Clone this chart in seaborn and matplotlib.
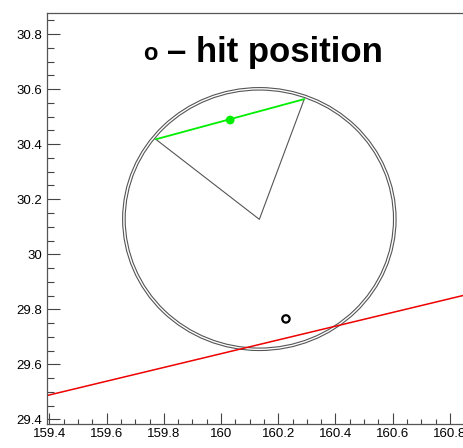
import numpy as np
import seaborn as sns
import matplotlib
matplotlib.use("Agg")
import matplotlib.pyplot as plt
from matplotlib.patches import Circle
from matplotlib.ticker import MultipleLocator, FuncFormatter

# axis ranges
x_range = [159.39, 160.846]
y_range = [29.382, 30.876]

# ring (two concentric circles)
ring_center = [160.134, 30.128]
ring_radii = [0.469, 0.478]

# triangle: chord endpoints and apex
tri_x = [159.772, 160.134, 160.291]
tri_y = [30.418, 30.127, 30.564]

# green chord and its midpoint
chord_x = [159.772, 160.291]
chord_y = [30.418, 30.564]
chord_mid_x = [160.032]
chord_mid_y = [30.488]

# hit position
hit_x = [160.227]
hit_y = [29.765]

# red track line
track_x = [159.39, 160.846]
track_y = [29.486, 29.850]

sns.set_style("ticks")
plt.rcParams['font.family'] = ['Liberation Sans', 'DejaVu Sans']
plt.rcParams['text.color'] = 'black'
plt.rcParams['xtick.labelcolor'] = 'black'
plt.rcParams['ytick.labelcolor'] = 'black'

fig = plt.figure(figsize=(4.63, 4.48), dpi=100)
ax = fig.add_axes([0.1005, 0.053, 0.8995, 0.9173])

for r in ring_radii:
    ax.add_patch(Circle(ring_center, r, fill=False, edgecolor='#555555', linewidth=0.8))

sns.lineplot(x=tri_x, y=tri_y, sort=False, color='#555555', linewidth=0.8, ax=ax)
sns.lineplot(x=chord_x, y=chord_y, sort=False, color='#00ee00', linewidth=1.3, ax=ax)
sns.scatterplot(x=chord_mid_x, y=chord_mid_y, color='#00ee00', s=40, edgecolor='none', ax=ax)
sns.lineplot(x=track_x, y=track_y, sort=False, color='#ee0000', linewidth=1.1, ax=ax)
sns.scatterplot(x=hit_x, y=hit_y, facecolor='none', edgecolor='black', s=28, linewidth=1.6, ax=ax)

ax.set_xlim(x_range)
ax.set_ylim(y_range)

ax.text(0.232, 0.886, 'o', transform=ax.transAxes, fontsize=17, fontweight='bold',
        color='black', ha='left', va='baseline')
ax.text(0.289, 0.882, '\u2013 hit position', transform=ax.transAxes, fontsize=25, fontweight='bold',
        color='black', ha='left', va='baseline')

fmt = FuncFormatter(lambda v, p: '%g' % round(v, 3))
ax.xaxis.set_major_locator(MultipleLocator(0.2))
ax.xaxis.set_minor_locator(MultipleLocator(0.05))
ax.yaxis.set_major_locator(MultipleLocator(0.2))
ax.yaxis.set_minor_locator(MultipleLocator(0.05))
ax.xaxis.set_major_formatter(fmt)
ax.yaxis.set_major_formatter(fmt)

ax.tick_params(axis='x', which='major', direction='in', length=8, width=0.8, color='#444444',
               labelsize=9.5, pad=3, labelcolor='black')
ax.tick_params(axis='x', which='minor', direction='in', length=3.6, width=0.8, color='#444444')
ax.tick_params(axis='y', which='major', direction='in', length=9, width=0.8, color='#444444',
               labelsize=9.5, pad=3, labelcolor='black')
ax.tick_params(axis='y', which='minor', direction='in', length=5, width=0.8, color='#444444')

for side in ['left', 'bottom', 'top']:
    ax.spines[side].set_visible(True)
    ax.spines[side].set_color('#555555')
    ax.spines[side].set_linewidth(0.9)
ax.spines['right'].set_visible(False)
ax.set_xlabel('')
ax.set_ylabel('')

plt.savefig('out.png', dpi=100)
